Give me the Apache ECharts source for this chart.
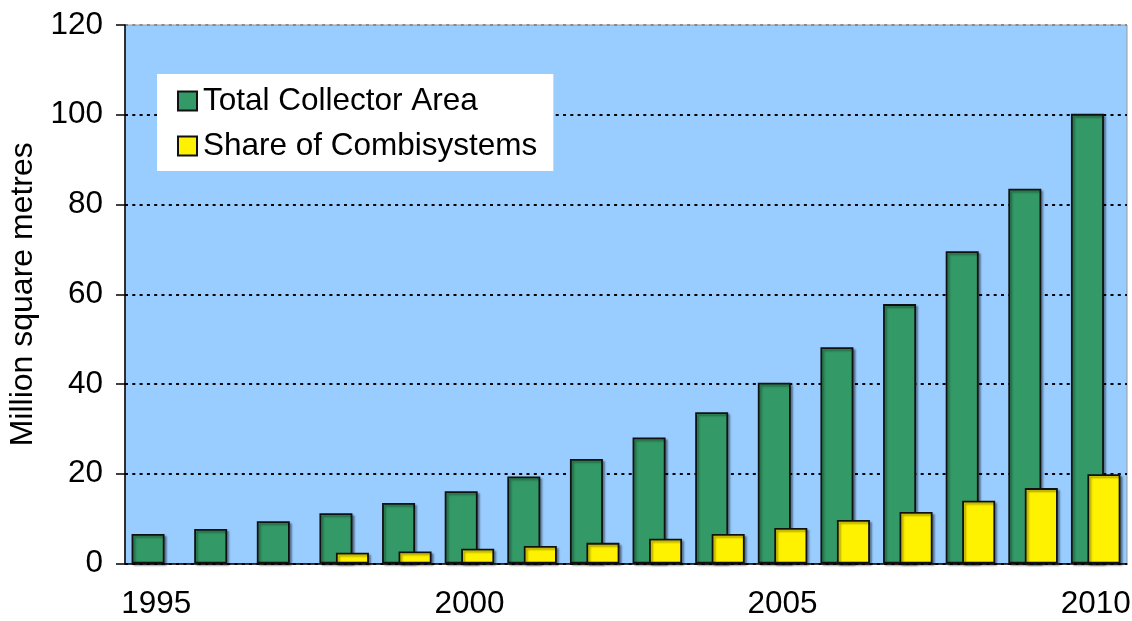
<!DOCTYPE html>
<html>
<head>
<meta charset="utf-8">
<script src="https://cdn.jsdelivr.net/npm/echarts@6/dist/echarts.min.js"></script>
<style>html,body{margin:0;padding:0;background:#fff}#c{width:1132px;height:621px}</style>
</head>
<body>
<div id="c"></div>
<script>
const years = ['1995','1996','1997','1998','1999','2000','2001','2002','2003','2004','2005','2006','2007','2008','2009','2010'];
const totalArea = [6.6, 7.7, 9.4, 11.2, 13.5, 16.1, 19.4, 23.3, 28.1, 33.7, 40.3, 48.2, 57.8, 69.6, 83.5, 100.2];
const combiShare = [null, null, null, 2.4, 2.7, 3.3, 3.9, 4.6, 5.5, 6.6, 7.9, 9.7, 11.5, 14.0, 16.8, 19.9];
const yTicks = [0, 20, 40, 60, 80, 100, 120];
const seriesNames = ['Total Collector Area', 'Share of Combisystems'];

const FONT = 'Liberation Sans, Arial, sans-serif';
const FS = 31.5;
const chart = echarts.init(document.getElementById('c'), null, {renderer: 'canvas'});
const shadow = {shadowColor: 'rgba(0,0,0,0.35)', shadowBlur: 2, shadowOffsetX: 2, shadowOffsetY: 2};
chart.setOption({
  animation: false,
  backgroundColor: '#fff',
  grid: {left: 125, right: 5, top: 25, bottom: 57.5, containLabel: false, outerBoundsMode: 'none',
         show: true, backgroundColor: '#99CCFF', borderColor: '#999', borderWidth: 1},
  legend: {
    orient: 'vertical', left: 157, top: 74,
    backgroundColor: '#fff', padding: [11, 16, 9, 20],
    itemWidth: 19, itemHeight: 19, itemGap: 13,
    icon: 'rect',
    textStyle: {fontFamily: FONT, fontSize: FS, color: '#000', padding: [0, 0, 0, 1]},
    data: seriesNames
  },
  xAxis: {
    type: 'category', data: years,
    axisLine: {lineStyle: {color: '#000', width: 1.5}},
    axisTick: {show: false},
    axisLabel: {interval: 4, fontFamily: FONT, fontSize: FS, color: '#000', margin: 25}
  },
  yAxis: {
    type: 'value', min: yTicks[0], max: yTicks[yTicks.length - 1], interval: 20,
    name: 'Million square metres', nameLocation: 'middle', nameGap: 84,
    nameTextStyle: {fontFamily: FONT, fontSize: 32, color: '#000'},
    axisLine: {show: true, lineStyle: {color: '#000', width: 1.5}},
    axisTick: {show: true, length: 9, lineStyle: {color: '#000', width: 1.5}},
    axisLabel: {fontFamily: FONT, fontSize: FS, color: '#000', margin: 22},
    splitLine: {show: true, lineStyle: {color: ['#000','#000','#000','#000','#000','#000','#888'], width: 2, type: [3, 4.3]}}
  },
  series: [
    {name: seriesNames[0], type: 'bar', data: totalArea, barWidth: 33, barGap: '-50%',
     itemStyle: Object.assign({color: '#339966', borderColor: '#111', borderWidth: 1.8}, shadow)},
    {name: seriesNames[1], type: 'bar', data: combiShare, barWidth: 33,
     itemStyle: Object.assign({color: '#FFF200', borderColor: '#111', borderWidth: 1.8}, shadow)}
  ]
});
</script>
</body>
</html>
